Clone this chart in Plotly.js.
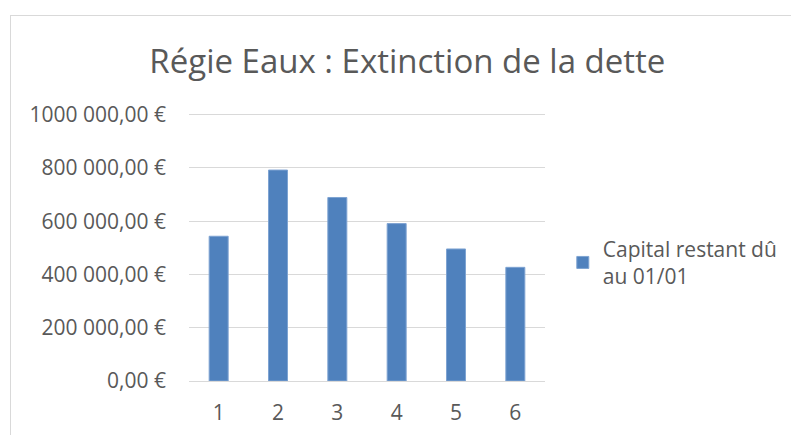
<!DOCTYPE html>
<html>
<head>
<meta charset="utf-8">
<script src="https://cdn.plot.ly/plotly-3.0.1.min.js"></script>
<style>
  body { margin: 0; background: #ffffff; overflow: hidden; }
  #frame { position: absolute; left: 10px; top: 15px; width: 800px; height: 440px; border: 1px solid #d9d9d9; }
  #chart { position: absolute; left: 0; top: 0; width: 791px; height: 435px; }
</style>
</head>
<body>
<div id="frame"></div>
<div id="chart"></div>
<script>
// Capital restant dû au 01/01, per year
var years = ["1", "2", "3", "4", "5", "6"];
var capital = [543500, 792000, 689000, 591000, 495700, 426800];

var yTicks = [0, 200000, 400000, 600000, 800000, 1000000];
var yLabels = ["0,00 €", "200 000,00 €", "400 000,00 €", "600 000,00 €", "800 000,00 €", "1000 000,00 €"];

var textColor = "#595959";
var gridColor = "#d9d9d9";

var trace = {
  x: years,
  y: capital,
  type: "bar",
  name: "Capital restant dû<br>au 01/01",
  marker: { color: "#4f81bd", line: { color: "#7ea3d2", width: 1 } },
  hoverinfo: "none"
};

var layout = {
  width: 791,
  height: 435,
  paper_bgcolor: "rgba(0,0,0,0)",
  plot_bgcolor: "rgba(0,0,0,0)",
  font: { family: "Open Sans, sans-serif", color: textColor, size: 21 },
  margin: { l: 189, r: 246, t: 112, b: 54, autoexpand: false },
  bargap: 0.68,
  title: {
    text: "Régie Eaux : Extinction de la dette",
    font: { size: 33, color: textColor },
    x: 0.515, xanchor: "center",
    y: 0.858, yanchor: "middle"
  },
  xaxis: {
    type: "category",
    showgrid: false,
    showline: true,
    linecolor: gridColor,
    linewidth: 1,
    ticks: "",
    ticklabelstandoff: 13,
    tickfont: { size: 21 }
  },
  yaxis: {
    range: [0, 1010000],
    tickvals: yTicks,
    ticktext: yLabels,
    showgrid: true,
    gridcolor: gridColor,
    gridwidth: 1,
    zeroline: false,
    showline: false,
    ticks: "",
    ticklabelstandoff: 22,
    tickfont: { size: 21 }
  },
  showlegend: true,
  legend: {
    x: 1.05, xanchor: "left",
    y: 0.44, yanchor: "middle",
    font: { size: 21 },
    bgcolor: "rgba(0,0,0,0)",
    itemwidth: 30
  }
};

Plotly.newPlot("chart", [trace], layout, { displayModeBar: false, staticPlot: true });
</script>
</body>
</html>
